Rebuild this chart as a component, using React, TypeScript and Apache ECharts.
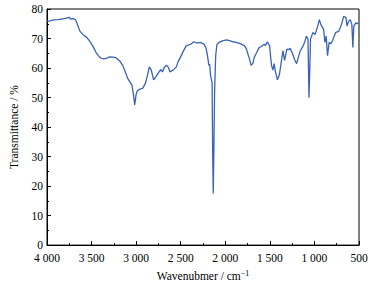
import React, { useEffect, useRef } from "react";
import * as echarts from "echarts";

const wavenumbers = [
  4000, 3967, 3923, 3880, 3836, 3792, 3752, 3734, 3710, 3680, 3655, 3631, 3595, 3552, 3513, 3478, 3453, 3424, 3398, 3369,
  3333, 3297, 3256, 3223, 3185, 3150, 3119, 3095, 3070, 3048, 3030, 3016, 3001, 2988, 2968, 2925, 2895, 2873, 2852, 2830,
  2804, 2778, 2742, 2723, 2706, 2682, 2658, 2638, 2622, 2586, 2549, 2531, 2494, 2476, 2439, 2414, 2385, 2366, 2348, 2315,
  2283, 2239, 2217, 2203, 2184, 2175, 2166, 2159, 2148, 2141, 2135, 2129, 2120, 2108, 2095, 2075, 2031, 1984, 1944, 1911,
  1867, 1820, 1783, 1763, 1747, 1728, 1711, 1692, 1674, 1649, 1619, 1594, 1564, 1550, 1528, 1503, 1492, 1481, 1466, 1452,
  1437, 1415, 1394, 1372, 1353, 1335, 1309, 1291, 1273, 1244, 1222, 1200, 1164, 1145, 1127, 1107, 1091, 1072, 1061, 1050,
  1044, 1018, 992, 963, 945, 927, 897, 883, 868, 853, 835, 817, 798, 762, 726, 697, 671, 658, 646, 634,
  617, 598, 580, 569, 558, 536, 522, 507, 500,
];

const transmittance = [
  75.8, 76.0, 76.3, 76.4, 76.6, 76.8, 77.2, 76.6, 76.7, 76.4, 74.5, 72.5, 71.3, 70.3, 68.8, 67.0, 65.4, 64.2, 63.4, 63.1,
  63.3, 63.8, 63.7, 63.4, 62.4, 60.9, 58.5, 56.5, 55.3, 54.3, 51.0, 47.5, 51.0, 52.2, 52.7, 53.2, 54.9, 57.5, 60.4, 59.3,
  56.0, 57.1, 58.7, 59.5, 58.7, 60.3, 60.9, 60.2, 58.7, 59.3, 60.4, 62.0, 64.2, 65.4, 67.5, 67.8, 68.1, 68.6, 68.9, 68.4,
  68.7, 68.1, 66.8, 64.8, 60.9, 61.3, 57.6, 56.5, 55.0, 30.0, 17.5, 30.0, 52.0, 64.0, 67.8, 68.6, 69.2, 69.5, 69.2, 68.9,
  68.6, 68.1, 67.5, 66.5, 64.8, 63.0, 60.9, 61.5, 63.7, 65.2, 67.0, 67.3, 68.1, 67.6, 68.9, 67.5, 64.0, 60.9, 59.3, 61.5,
  58.7, 56.0, 57.6, 62.0, 65.9, 62.6, 66.4, 66.2, 66.7, 64.8, 62.8, 61.5, 65.4, 66.6, 67.5, 69.0, 70.8, 69.8, 49.9, 62.0,
  69.8, 72.0, 71.4, 74.2, 76.4, 74.7, 73.1, 68.7, 70.8, 64.2, 68.7, 68.2, 69.2, 72.0, 72.5, 74.7, 77.5, 77.3, 77.0, 74.2,
  75.8, 76.4, 74.7, 67.0, 74.2, 75.3, 75.0, 75.3, 75.4,
];

const xMin = 500;
const xMax = 4000;
const xStep = 500;
const yMin = 0;
const yMax = 80;
const yStep = 10;

const xTitle = "Wavenubmer / cm";
const yTitle = "Transmittance / %";

const FONT = "'Liberation Serif', 'Times New Roman', 'DejaVu Serif', serif";

function fmtThousands(v: number): string {
  if (v >= 1000) {
    const th = Math.floor(v / 1000);
    const rest = String(v % 1000).padStart(3, "0");
    return `${th} ${rest}`;
  }
  return String(v);
}

export default function App() {
  const ref = useRef<HTMLDivElement>(null);

  useEffect(() => {
    if (!ref.current) return;
    const chart = echarts.init(ref.current, null, { renderer: "svg" });
    const data = wavenumbers.map((w, i) => [w, transmittance[i]]);
    chart.setOption({
      animation: false,
      backgroundColor: "#ffffff",
      grid: {
        left: 39,
        right: 12,
        top: 9,
        bottom: 36,
        show: true,
        borderColor: "#000",
        borderWidth: 1,
        backgroundColor: "transparent",
      },
      xAxis: {
        type: "value",
        inverse: true,
        min: xMin,
        max: xMax,
        interval: xStep,
        name: `${xTitle}{sup|−1}`,
        nameLocation: "middle",
        nameGap: 21,
        nameTextStyle: {
          fontFamily: FONT,
          fontSize: 11.5,
          color: "#000",
          rich: {
            sup: { fontFamily: FONT, fontSize: 8, color: "#000", verticalAlign: "top", padding: [0, 0, 6, 0] },
          },
        },
        axisLine: { show: true, lineStyle: { color: "#000", width: 1 } },
        axisTick: { show: true, inside: true, length: 4, lineStyle: { color: "#000" } },
        minorTick: { show: true, splitNumber: 2, length: 2, lineStyle: { color: "#000" } },
        splitLine: { show: false },
        axisLabel: {
          margin: 7,
          fontFamily: FONT,
          fontSize: 11.5,
          color: "#000",
          formatter: (v: number) => fmtThousands(v),
        },
      },
      yAxis: {
        type: "value",
        min: yMin,
        max: yMax,
        interval: yStep,
        name: yTitle,
        nameLocation: "middle",
        nameGap: 27,
        nameRotate: 90,
        nameTextStyle: { fontFamily: FONT, fontSize: 11.5, color: "#000" },
        axisLine: { show: true, lineStyle: { color: "#000", width: 1 } },
        axisTick: { show: true, inside: true, length: 4, lineStyle: { color: "#000" } },
        minorTick: { show: true, splitNumber: 2, length: 2, lineStyle: { color: "#000" } },
        splitLine: { show: false },
        axisLabel: { margin: 4, fontFamily: FONT, fontSize: 11.5, color: "#000" },
      },
      series: [
        {
          type: "line",
          data,
          showSymbol: false,
          symbol: "none",
          lineStyle: { color: "#3a62b8", width: 1.3 },
        },
      ],
    });
    return () => chart.dispose();
  }, []);

  return <div ref={ref} style={{ width: 371, height: 287, position: "absolute", left: 0, top: 0 }} />;
}
